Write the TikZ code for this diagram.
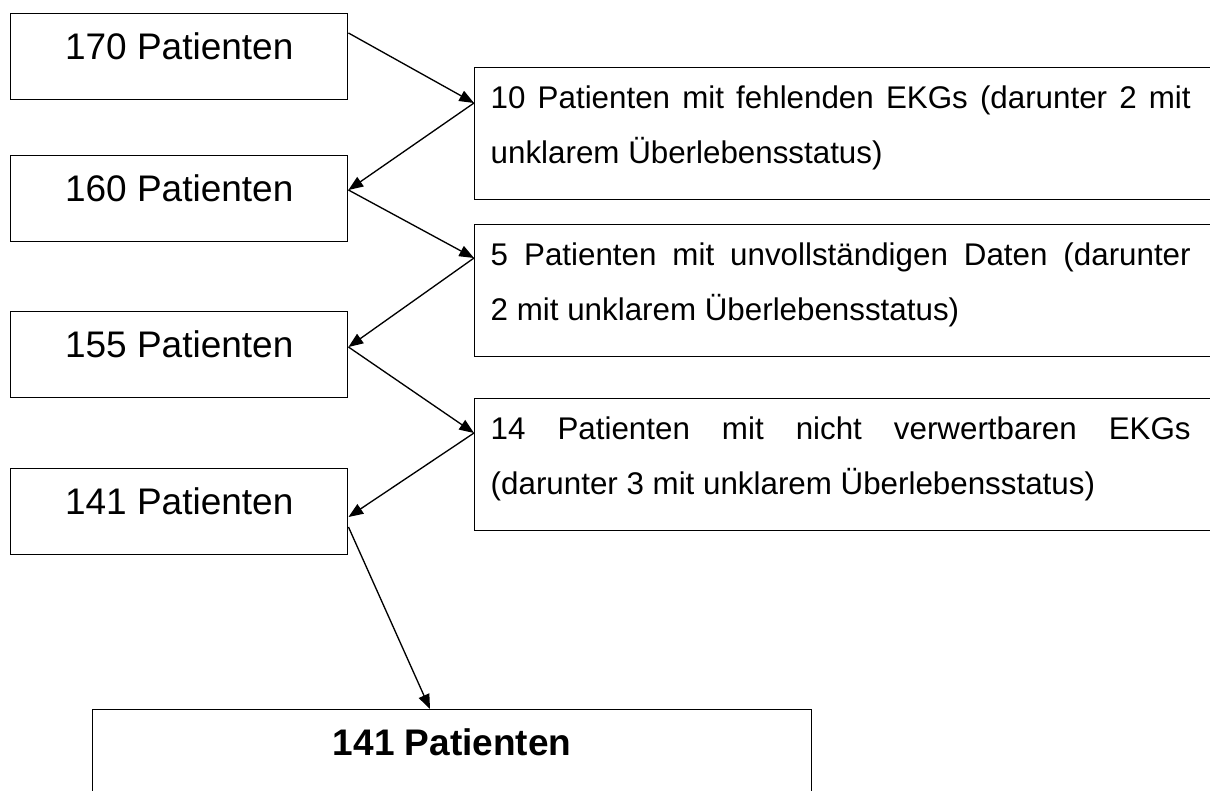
\documentclass[tikz,border=0pt]{standalone}
\usepackage{fontspec}
\setmainfont{Liberation Sans}
\usetikzlibrary{arrows.meta,calc}
\tikzset{
  leftbox/.style={draw, line width=1.1pt, rectangle, inner sep=0pt, anchor=north west,
    minimum width=252.75pt, text height=34.5pt, text depth=30pt,
    font=\fontsize{27.75}{32}\selectfont},
  rightbox/.style={draw, line width=1.1pt, rectangle, inner sep=0pt, anchor=north west,
    font=\fontsize{23.5}{41.25}\selectfont},
  finalbox/.style={draw, line width=1.1pt, rectangle, inner sep=0pt, anchor=north west,
    minimum width=539.25pt, text height=34.5pt, text depth=55.5pt,
    font=\fontsize{27.75}{32}\selectfont\bfseries},
  arr/.style={line width=1pt, -{Triangle[length=11pt,width=8.5pt]}},
}
\newcommand{\rtext}[2]{\hspace*{12pt}\parbox[c][99pt][t]{525pt}{\rule{0pt}{30.75pt}#1\linebreak #2}\hspace*{40pt}}
\begin{document}
\begin{tikzpicture}[x=0.75pt,y=-0.75pt]
\useasboundingbox (0,0) rectangle (1210,790);
\clip (0,0) rectangle (1210,790);
\node[leftbox] (p170) at (10,13) {170 Patienten};
\node[leftbox] (p160) at (10,155) {160 Patienten};
\node[leftbox] (p155) at (10,311) {155 Patienten};
\node[leftbox] (p141) at (10,468) {141 Patienten};
\node[rightbox] (b1) at (474,67) {\rtext{10 Patienten mit fehlenden EKGs (darunter 2 mit}{unklarem Überlebensstatus)}};
\node[rightbox] (b2) at (474,224) {\rtext{5 Patienten mit unvollständigen Daten (darunter}{2 mit unklarem Überlebensstatus)}};
\node[rightbox] (b3) at (474,398) {\rtext{14 Patienten mit nicht verwertbaren EKGs}{(darunter 3 mit unklarem Überlebensstatus)}};
\node[finalbox] (fin) at (92,709) {141 Patienten};
\draw[arr] ($(p170.north east)+(0,20)$) -- ($(b1.north west)+(0,36)$);
\draw[arr] ($(b1.north west)+(0,36)$) -- ($(p160.north east)+(0,35)$);
\draw[arr] ($(p160.north east)+(0,35)$) -- ($(b2.north west)+(0,34)$);
\draw[arr] ($(b2.north west)+(0,34)$) -- ($(p155.north east)+(0,36)$);
\draw[arr] ($(p155.north east)+(0,36)$) -- ($(b3.north west)+(0,35)$);
\draw[arr] ($(b3.north west)+(0,35)$) -- ($(p141.north east)+(0,49)$);
\draw[arr] ($(p141.north east)+(0,59)$) -- ($(fin.north west)+(338,0)$);
\end{tikzpicture}
\end{document}
